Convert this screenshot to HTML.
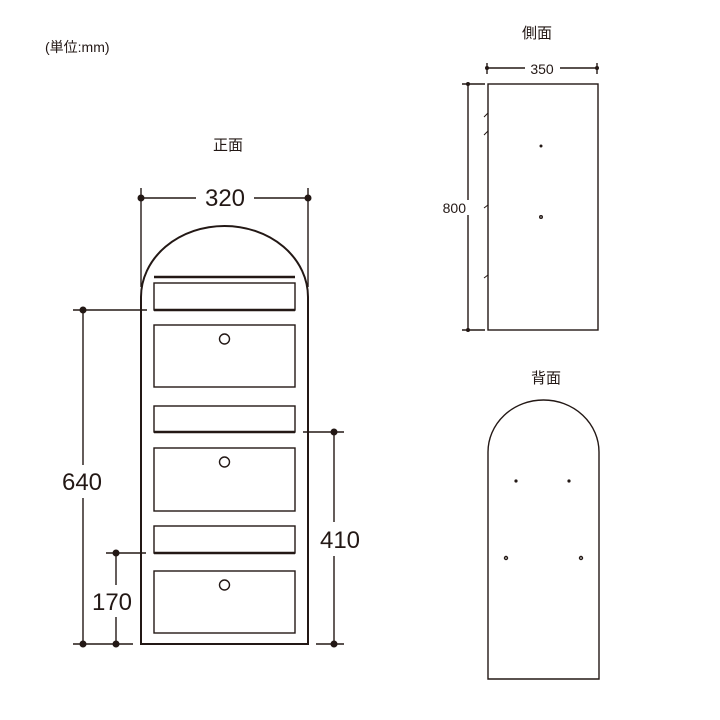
<!DOCTYPE html>
<html><head><meta charset="utf-8"><style>
html,body{margin:0;padding:0;background:#fff;}
svg{display:block;}
text{font-family:"Liberation Sans","Noto Sans CJK JP",sans-serif;fill:#231815;}
</style></head><body>
<svg width="720" height="720" viewBox="0 0 720 720" xmlns="http://www.w3.org/2000/svg">
<g stroke="#231815" fill="none" stroke-width="1.4">
<!-- front body -->
<path d="M141,644 L141,297 A83.5,71 0 0 1 308,297 L308,644 Z" stroke-width="2"/>
<line x1="154" y1="277" x2="295" y2="277" stroke-width="2.5"/>
<rect x="154" y="283" width="141" height="27"/>
<line x1="154" y1="310" x2="295" y2="310" stroke-width="2.5"/>
<rect x="154" y="325" width="141" height="62"/>
<circle cx="224.5" cy="339" r="5"/>
<rect x="154" y="406" width="141" height="26"/>
<line x1="154" y1="432" x2="295" y2="432" stroke-width="2.5"/>
<rect x="154" y="448" width="141" height="63"/>
<circle cx="224.5" cy="462" r="5"/>
<rect x="154" y="526" width="141" height="27"/>
<line x1="154" y1="553" x2="295" y2="553" stroke-width="2.5"/>
<rect x="154" y="571" width="141" height="62"/>
<circle cx="224.5" cy="585" r="5"/>
<!-- 320 dim -->
<line x1="141" y1="188" x2="141" y2="287"/>
<line x1="308" y1="188" x2="308" y2="287"/>
<line x1="141" y1="198" x2="196" y2="198"/>
<line x1="254" y1="198" x2="308" y2="198"/>
<!-- 640 dim -->
<line x1="73" y1="310" x2="147" y2="310"/>
<line x1="83" y1="310" x2="83" y2="465"/>
<line x1="83" y1="498" x2="83" y2="644"/>
<line x1="73" y1="644" x2="133" y2="644"/>
<!-- 170 dim -->
<line x1="106" y1="553" x2="146" y2="553"/>
<line x1="116" y1="553" x2="116" y2="585"/>
<line x1="116" y1="617" x2="116" y2="644"/>
<!-- 410 dim -->
<line x1="303" y1="432" x2="344" y2="432"/>
<line x1="334" y1="432" x2="334" y2="522"/>
<line x1="334" y1="556" x2="334" y2="644"/>
<line x1="316" y1="644" x2="344" y2="644"/>
<!-- side view -->
<rect x="488" y="84" width="110" height="246"/>
<line x1="487" y1="68" x2="525" y2="68"/>
<line x1="560" y1="68" x2="597" y2="68"/>
<line x1="487" y1="63" x2="487" y2="74"/>
<line x1="597" y1="63" x2="597" y2="74"/>
<line x1="462" y1="84" x2="485" y2="84"/>
<line x1="462" y1="330" x2="485" y2="330"/>
<line x1="468" y1="84" x2="468" y2="200"/>
<line x1="468" y1="215" x2="468" y2="330"/>
<line x1="484" y1="117" x2="488" y2="113" stroke-width="1"/>
<line x1="484" y1="135" x2="488" y2="131" stroke-width="1"/>
<line x1="484" y1="208" x2="488" y2="205" stroke-width="1"/>
<line x1="484" y1="278" x2="488" y2="275" stroke-width="1"/>
<!-- back view -->
<path d="M488,679 L488,452 A55.5,52 0 0 1 599,452 L599,679 Z"/>
<circle cx="506" cy="558" r="1.5"/>
<circle cx="581" cy="558" r="1.5"/>
<circle cx="541" cy="217" r="1.3"/>
</g>
<g fill="#231815">
<circle cx="141" cy="198" r="3.5"/><circle cx="308" cy="198" r="3.5"/>
<circle cx="83" cy="310" r="3.5"/><circle cx="83" cy="644" r="3.5"/>
<circle cx="116" cy="553" r="3.5"/><circle cx="116" cy="644" r="3.5"/>
<circle cx="334" cy="432" r="3.5"/><circle cx="334" cy="644" r="3.5"/>
<circle cx="487" cy="68" r="2"/><circle cx="597" cy="68" r="2"/>
<circle cx="468" cy="84" r="2"/><circle cx="468" cy="330" r="2"/>
<circle cx="541" cy="146" r="1.5"/>
<circle cx="516" cy="481" r="1.6"/><circle cx="569" cy="481" r="1.6"/>
</g>
<text x="225" y="206" font-size="24" text-anchor="middle">320</text>
<text x="82" y="490" font-size="24" text-anchor="middle">640</text>
<text x="112" y="610" font-size="24" text-anchor="middle">170</text>
<text x="340" y="548" font-size="24" text-anchor="middle">410</text>
<text x="542" y="74" font-size="14" text-anchor="middle">350</text>
<text x="466" y="213" font-size="14" text-anchor="end">800</text>
<text x="228" y="150" font-size="15" text-anchor="middle">正面</text>
<text x="537" y="38" font-size="15" text-anchor="middle">側面</text>
<text x="546" y="383" font-size="15" text-anchor="middle">背面</text>
<text x="45" y="52" font-size="14">(単位:mm)</text>
</svg>
</body></html>
